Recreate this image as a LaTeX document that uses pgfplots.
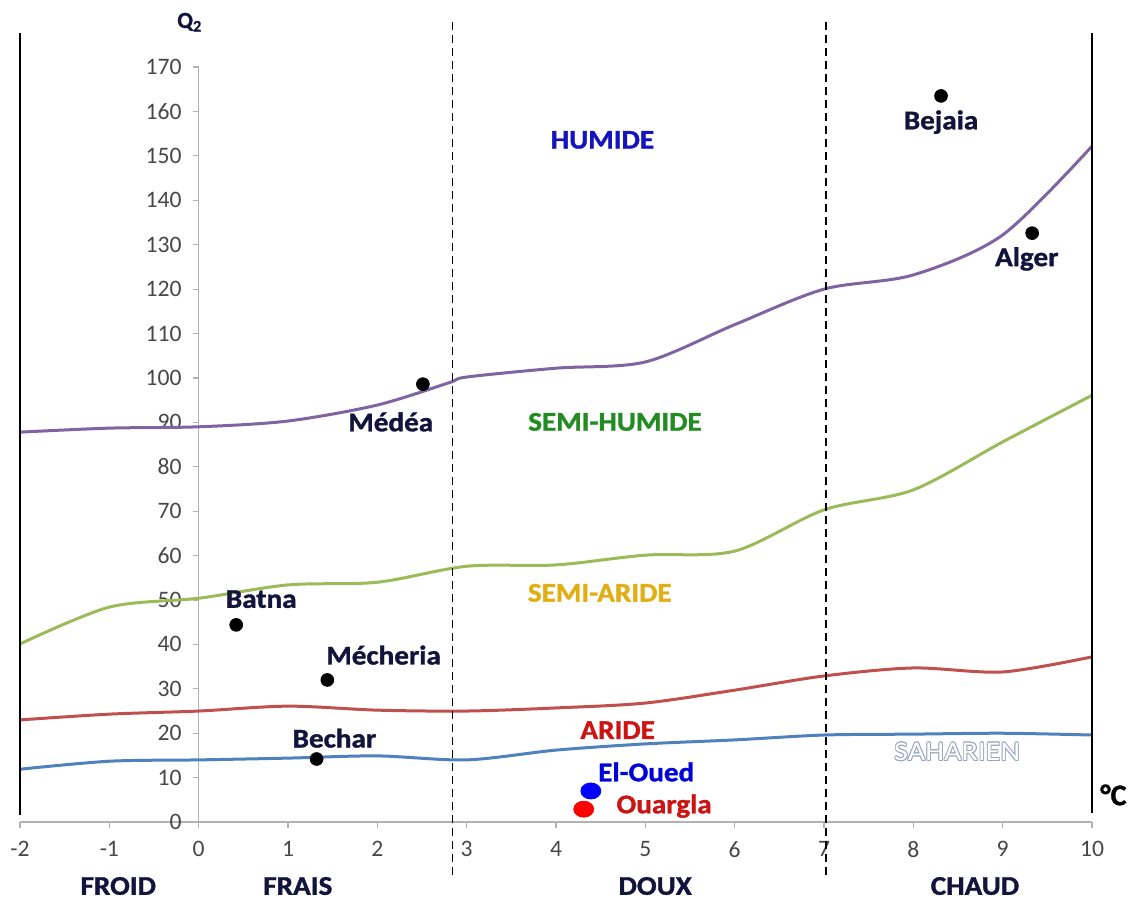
\documentclass[border=0pt]{standalone}
\usepackage{pgfplots}
\pgfplotsset{compat=1.18}
\usepackage{fontspec}
\setmainfont{Carlito}[BoldFeatures={FakeBold=1.2}]

\definecolor{cpurple}{RGB}{128,100,162}
\definecolor{cgreen}{RGB}{155,187,89}
\definecolor{cred}{RGB}{192,80,77}
\definecolor{cblue}{RGB}{79,129,189}
\definecolor{navy}{RGB}{18,20,60}
\definecolor{zhum}{RGB}{20,20,190}
\definecolor{zsemihum}{RGB}{34,140,34}
\definecolor{zsemiar}{RGB}{225,175,20}
\definecolor{zar}{RGB}{205,20,20}
\definecolor{zsah}{RGB}{150,165,190}

\newcommand{\lbl}{\fontsize{13.5}{15}\selectfont\bfseries}
\tikzset{lab/.style={font=\lbl, xscale=1.08},
  sah/.style={font=\fontsize{13.5}{15}\selectfont, xscale=1.12}}

\begin{document}
\begin{tikzpicture}
\begin{axis}[
  scale only axis, width=536pt, height=377.5pt,
  xmin=-2, xmax=10, ymin=0, ymax=170,
  enlargelimits=false,
  axis lines=middle,
  axis line style={draw=gray!60, line width=0.7pt, -},
  hide obscured x ticks=false, hide obscured y ticks=false,
  xtick={-2,...,10}, ytick={0,10,...,170},
  tick align=outside, major tick length=3pt,
  tick style={gray!60, line width=0.6pt},
  ticklabel style={font=\fontsize{11.8}{13}\selectfont, text=black!72},
  xticklabel style={yshift=-3pt},
  yticklabel style={xshift=-2pt},
  /pgf/number format/assume math mode=true,
  clip=false,
]
% climate zone boundaries (Emberger)
\addplot[cpurple, line width=1.5pt, smooth] coordinates {
  (-2,87.8) (-1,88.7) (0,89) (1,90.3) (2,93.9) (2.8,98.9) (3,100.2)
  (4,102.2) (5,103.6) (6,112) (7,120) (8,123.2) (9,132.2) (10,152.2)};
\addplot[cgreen, line width=1.5pt, smooth] coordinates {
  (-2,40.1) (-1,48.4) (0,50.4) (1,53.4) (2,54) (3,57.6) (4,57.9)
  (5,60.1) (6,61) (7,70.3) (8,74.8) (9,85.6) (10,96.1)};
\addplot[cred, line width=1.5pt, smooth] coordinates {
  (-2,23) (-1,24.3) (0,25) (1,26.1) (2,25.2) (3,25) (4,25.7)
  (5,26.8) (6,29.7) (7,32.9) (8,34.7) (9,33.8) (10,37.2)};
\addplot[cblue, line width=1.5pt, smooth] coordinates {
  (-2,11.9) (-1,13.7) (0,14) (1,14.4) (2,14.9) (3,14) (4,16.2)
  (5,17.6) (6,18.5) (7,19.6) (8,19.8) (9,20) (10,19.6)};

% stations
\addplot[only marks, mark=*, mark size=3.2pt, black] coordinates {
  (8.31,163.5) (9.33,132.6) (2.51,98.6) (0.42,44.4) (1.44,32) (1.32,14.2)};
\addplot[only marks, mark=*, mark size=4pt, mark options={xscale=1.25}, blue] coordinates {(4.39,7.0)};
\addplot[only marks, mark=*, mark size=4pt, mark options={xscale=1.25}, red] coordinates {(4.31,2.9)};

% frame lines and temperature limits
\draw[black, line width=1pt] (axis cs:-2,1.5) -- (axis cs:-2,177.7);
\draw[black, line width=1pt] (axis cs:10,2) -- (axis cs:10,177.7);
\draw[black, line width=0.8pt, dash pattern=on 4pt off 2.5pt] (axis cs:2.84,-12) -- (axis cs:2.84,181);
\draw[black, line width=0.8pt, dash pattern=on 4pt off 2.5pt] (axis cs:7.02,-12) -- (axis cs:7.02,181);

% station names
\node[navy, lab] at (axis cs:8.31,157.6) {Bejaia};
\node[navy, lab] at (axis cs:9.27,126.8) {Alger};
\node[navy, lab] at (axis cs:2.15,90.1) {Médéa};
\node[navy, lab] at (axis cs:0.70,50.2) {Batna};
\node[navy, lab] at (axis cs:2.07,37.6) {Mécheria};
\node[navy, lab] at (axis cs:1.52,18.9) {Bechar};
\node[blue!85!black, lab] at (axis cs:5.01,11.3) {El-Oued};
\node[zar, lab] at (axis cs:5.21,3.6) {Ouargla};

% bioclimatic zones
\node[zhum, lab] at (axis cs:4.52,153.6) {HUMIDE};
\node[zsemihum, lab] at (axis cs:4.66,90.1) {SEMI-HUMIDE};
\node[zsemiar, lab] at (axis cs:4.49,51.6) {SEMI-ARIDE};
\node[zar, lab] at (axis cs:4.69,20.7) {ARIDE};
% hollow lettering for the Saharan zone
\coordinate (sahc) at (axis cs:8.49,15.8);
\node[zsah, sah] at ([xshift=0.45pt]sahc) {SAHARIEN};
\node[zsah, sah] at ([xshift=-0.45pt]sahc) {SAHARIEN};
\node[zsah, sah] at ([yshift=0.45pt]sahc) {SAHARIEN};
\node[zsah, sah] at ([yshift=-0.45pt]sahc) {SAHARIEN};
\node[zsah, sah] at ([xshift=0.32pt, yshift=0.32pt]sahc) {SAHARIEN};
\node[zsah, sah] at ([xshift=-0.32pt, yshift=0.32pt]sahc) {SAHARIEN};
\node[zsah, sah] at ([xshift=0.32pt, yshift=-0.32pt]sahc) {SAHARIEN};
\node[zsah, sah] at ([xshift=-0.32pt, yshift=-0.32pt]sahc) {SAHARIEN};
\node[white, sah] at (sahc) {SAHARIEN};

% winter variants
\node[navy, lab] at (axis cs:-0.90,-14.4) {FROID};
\node[navy, lab] at (axis cs:1.11,-14.4) {FRAIS};
\node[navy, lab] at (axis cs:5.11,-14.4) {DOUX};
\node[navy, lab] at (axis cs:8.69,-14.4) {CHAUD};

% axis titles
\node[navy, font=\fontsize{11.5}{13}\selectfont\bfseries] at (axis cs:-0.10,180.1) {Q\textsubscript{2}};
\node[black, font=\fontsize{15}{17}\selectfont\bfseries] at (axis cs:10.24,6.1) {°C};

\coordinate (bbsw) at (axis cs:-2.224,-18.01);
\coordinate (bbne) at (axis cs:10.47,185.1);
\end{axis}
\pgfresetboundingbox
\path[use as bounding box] (bbsw) rectangle (bbne);
\end{tikzpicture}
\end{document}
